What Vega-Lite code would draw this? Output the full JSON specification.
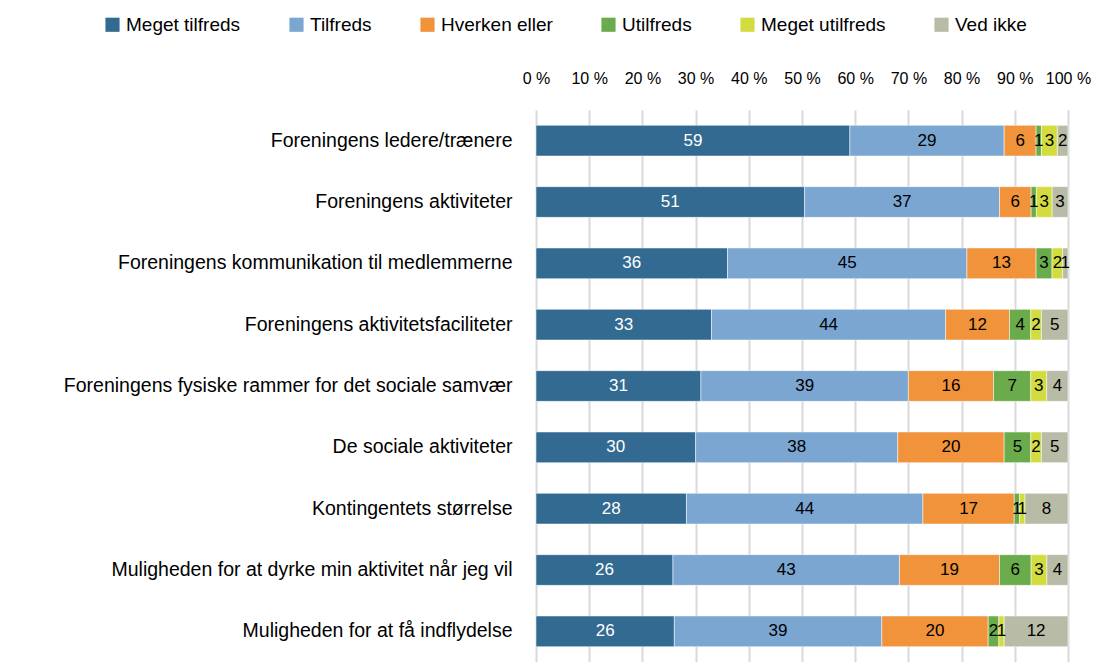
{
  "$schema": "https://vega.github.io/schema/vega-lite/v6.json",
  "width": 532,
  "height": 552,
  "autosize": {"type": "none"},
  "padding": {"left": 536, "top": 110, "right": 31, "bottom": 0},
  "background": "white",
  "config": {
    "font": "Liberation Sans",
    "view": {"stroke": null}
  },
  "data": {
    "values": [
      {"item": "Foreningens ledere/trænere", "cat": "Meget tilfreds", "value": 59},
      {"item": "Foreningens ledere/trænere", "cat": "Tilfreds", "value": 29},
      {"item": "Foreningens ledere/trænere", "cat": "Hverken eller", "value": 6},
      {"item": "Foreningens ledere/trænere", "cat": "Utilfreds", "value": 1},
      {"item": "Foreningens ledere/trænere", "cat": "Meget utilfreds", "value": 3},
      {"item": "Foreningens ledere/trænere", "cat": "Ved ikke", "value": 2},
      {"item": "Foreningens aktiviteter", "cat": "Meget tilfreds", "value": 51},
      {"item": "Foreningens aktiviteter", "cat": "Tilfreds", "value": 37},
      {"item": "Foreningens aktiviteter", "cat": "Hverken eller", "value": 6},
      {"item": "Foreningens aktiviteter", "cat": "Utilfreds", "value": 1},
      {"item": "Foreningens aktiviteter", "cat": "Meget utilfreds", "value": 3},
      {"item": "Foreningens aktiviteter", "cat": "Ved ikke", "value": 3},
      {"item": "Foreningens kommunikation til medlemmerne", "cat": "Meget tilfreds", "value": 36},
      {"item": "Foreningens kommunikation til medlemmerne", "cat": "Tilfreds", "value": 45},
      {"item": "Foreningens kommunikation til medlemmerne", "cat": "Hverken eller", "value": 13},
      {"item": "Foreningens kommunikation til medlemmerne", "cat": "Utilfreds", "value": 3},
      {"item": "Foreningens kommunikation til medlemmerne", "cat": "Meget utilfreds", "value": 2},
      {"item": "Foreningens kommunikation til medlemmerne", "cat": "Ved ikke", "value": 1},
      {"item": "Foreningens aktivitetsfaciliteter", "cat": "Meget tilfreds", "value": 33},
      {"item": "Foreningens aktivitetsfaciliteter", "cat": "Tilfreds", "value": 44},
      {"item": "Foreningens aktivitetsfaciliteter", "cat": "Hverken eller", "value": 12},
      {"item": "Foreningens aktivitetsfaciliteter", "cat": "Utilfreds", "value": 4},
      {"item": "Foreningens aktivitetsfaciliteter", "cat": "Meget utilfreds", "value": 2},
      {"item": "Foreningens aktivitetsfaciliteter", "cat": "Ved ikke", "value": 5},
      {"item": "Foreningens fysiske rammer for det sociale samvær", "cat": "Meget tilfreds", "value": 31},
      {"item": "Foreningens fysiske rammer for det sociale samvær", "cat": "Tilfreds", "value": 39},
      {"item": "Foreningens fysiske rammer for det sociale samvær", "cat": "Hverken eller", "value": 16},
      {"item": "Foreningens fysiske rammer for det sociale samvær", "cat": "Utilfreds", "value": 7},
      {"item": "Foreningens fysiske rammer for det sociale samvær", "cat": "Meget utilfreds", "value": 3},
      {"item": "Foreningens fysiske rammer for det sociale samvær", "cat": "Ved ikke", "value": 4},
      {"item": "De sociale aktiviteter", "cat": "Meget tilfreds", "value": 30},
      {"item": "De sociale aktiviteter", "cat": "Tilfreds", "value": 38},
      {"item": "De sociale aktiviteter", "cat": "Hverken eller", "value": 20},
      {"item": "De sociale aktiviteter", "cat": "Utilfreds", "value": 5},
      {"item": "De sociale aktiviteter", "cat": "Meget utilfreds", "value": 2},
      {"item": "De sociale aktiviteter", "cat": "Ved ikke", "value": 5},
      {"item": "Kontingentets størrelse", "cat": "Meget tilfreds", "value": 28},
      {"item": "Kontingentets størrelse", "cat": "Tilfreds", "value": 44},
      {"item": "Kontingentets størrelse", "cat": "Hverken eller", "value": 17},
      {"item": "Kontingentets størrelse", "cat": "Utilfreds", "value": 1},
      {"item": "Kontingentets størrelse", "cat": "Meget utilfreds", "value": 1},
      {"item": "Kontingentets størrelse", "cat": "Ved ikke", "value": 8},
      {"item": "Muligheden for at dyrke min aktivitet når jeg vil", "cat": "Meget tilfreds", "value": 26},
      {"item": "Muligheden for at dyrke min aktivitet når jeg vil", "cat": "Tilfreds", "value": 43},
      {"item": "Muligheden for at dyrke min aktivitet når jeg vil", "cat": "Hverken eller", "value": 19},
      {"item": "Muligheden for at dyrke min aktivitet når jeg vil", "cat": "Utilfreds", "value": 6},
      {"item": "Muligheden for at dyrke min aktivitet når jeg vil", "cat": "Meget utilfreds", "value": 3},
      {"item": "Muligheden for at dyrke min aktivitet når jeg vil", "cat": "Ved ikke", "value": 4},
      {"item": "Muligheden for at få indflydelse", "cat": "Meget tilfreds", "value": 26},
      {"item": "Muligheden for at få indflydelse", "cat": "Tilfreds", "value": 39},
      {"item": "Muligheden for at få indflydelse", "cat": "Hverken eller", "value": 20},
      {"item": "Muligheden for at få indflydelse", "cat": "Utilfreds", "value": 2},
      {"item": "Muligheden for at få indflydelse", "cat": "Meget utilfreds", "value": 1},
      {"item": "Muligheden for at få indflydelse", "cat": "Ved ikke", "value": 12}
    ]
  },
  "transform": [
    {"calculate": "indexof(['Meget tilfreds','Tilfreds','Hverken eller','Utilfreds','Meget utilfreds','Ved ikke'], datum.cat)", "as": "catOrder"}
  ],
  "encoding": {
    "y": {
      "field": "item",
      "type": "nominal",
      "sort": null,
      "scale": {"paddingInner": 0.5, "paddingOuter": 0.25},
      "axis": {
        "title": null,
        "domain": false,
        "ticks": false,
        "labelFontSize": 19.5,
        "labelColor": "#000000",
        "labelPadding": 24,
        "labelLimit": 600
      }
    },
    "order": {"field": "catOrder", "type": "quantitative"}
  },
  "layer": [
    {
      "mark": {"type": "bar", "stroke": "white", "strokeWidth": 0.5},
      "encoding": {
        "x": {
          "field": "value",
          "type": "quantitative",
          "stack": "normalize",
          "scale": {"domain": [0, 1], "nice": false},
          "axis": {
            "orient": "top",
            "title": null,
            "labelExpr": "round(datum.value*100) + ' %'",
            "values": [0, 0.1, 0.2, 0.3, 0.4, 0.5, 0.6, 0.7, 0.8, 0.9, 1],
            "labelOverlap": false,
            "labelBound": false,
            "labelFlush": false,
            "domain": false,
            "ticks": false,
            "labelFontSize": 16,
            "labelColor": "#000000",
            "labelPadding": 24,
            "grid": true,
            "gridColor": "#d9d9d9",
            "gridWidth": 2
          }
        },
        "color": {
          "field": "cat",
          "type": "nominal",
          "sort": ["Meget tilfreds", "Tilfreds", "Hverken eller", "Utilfreds", "Meget utilfreds", "Ved ikke"],
          "scale": {
            "domain": ["Meget tilfreds", "Tilfreds", "Hverken eller", "Utilfreds", "Meget utilfreds", "Ved ikke"],
            "range": ["#336a92", "#7aa6d1", "#f0933a", "#6aac4b", "#d3dc3e", "#b8bba5"]
          },
          "legend": {
            "title": null,
            "orient": "none",
            "direction": "horizontal",
            "legendX": -433,
            "legendY": -95,
            "symbolType": "square",
            "symbolSize": 200,
            "symbolStrokeWidth": 0,
            "labelFontSize": 19,
            "labelColor": "#000000",
            "labelOffset": 4,
            "columnPadding": 46
          }
        }
      }
    },
    {
      "mark": {"type": "text", "fontSize": 17, "baseline": "middle", "align": "center"},
      "encoding": {
        "x": {"field": "value", "type": "quantitative", "stack": "normalize", "bandPosition": 0.5},
        "text": {"field": "value", "type": "quantitative"},
        "color": {
          "condition": {"test": "datum.cat === 'Meget tilfreds'", "value": "white"},
          "value": "black"
        }
      }
    }
  ]
}
